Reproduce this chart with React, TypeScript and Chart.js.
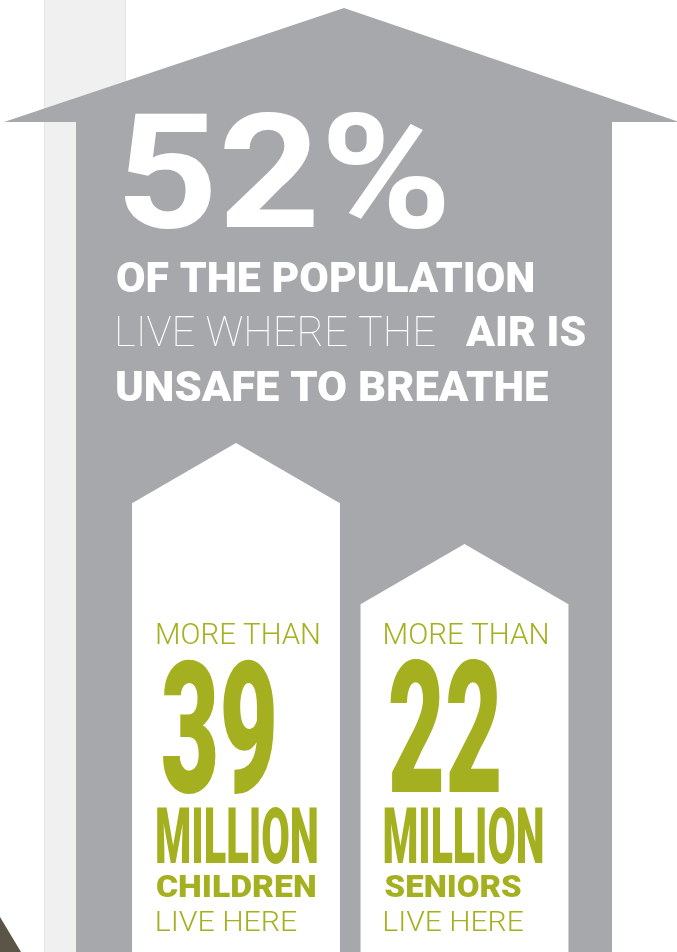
import React, { useEffect, useRef } from "react";
import { Chart, registerables } from "chart.js";

Chart.register(...registerables);

// ---- data ----
const GROUPS = ["CHILDREN", "SENIORS"];
const MILLIONS = [39, 22];
const SHARE_PCT = 52;
const LINE1 = "OF THE POPULATION";
const LINE2_LIGHT = "LIVE WHERE THE";
const LINE2_BOLD = "AIR IS";
const LINE3 = "UNSAFE TO BREATHE";
const PREFIX = "MORE THAN";
const UNIT = "MILLION";
const SUFFIX = "LIVE HERE";

// ---- style ----
const GRAY = "#a7a8ac";
const STRIP = "#f0f0f0";
const GREEN = "#a4b01f";
const W = 677;
const H = 952;

type FontFn = (s: number) => string;
const roboto = (wt: number): FontFn => (s: number) => `${wt} ${s}px Roboto`;

function fitText(
  ctx: CanvasRenderingContext2D,
  text: string,
  font: FontFn,
  x: number,
  baseline: number,
  width: number,
  capH: number,
  color: string
) {
  ctx.save();
  ctx.textAlign = "left";
  ctx.textBaseline = "alphabetic";
  ctx.font = font(100);
  const cap = ctx.measureText("H").actualBoundingBoxAscent || 71;
  const size = (100 * capH) / cap;
  ctx.font = font(size);
  const m = ctx.measureText(text);
  const tw = m.actualBoundingBoxLeft + m.actualBoundingBoxRight;
  const sx = width / tw;
  ctx.translate(x, baseline);
  ctx.scale(sx, 1);
  ctx.fillStyle = color;
  ctx.fillText(text, m.actualBoundingBoxLeft, 0);
  ctx.restore();
}

// layout of texts inside each small house (relative to house left edge)
const HOUSE_TEXT = [
  { dx: 25, prefixW: 162, numDx: 31, numW: 111, unitW: 160, groupW: 158, suffixW: 140 },
  { dx: 24, prefixW: 163, numDx: 30, numW: 108, unitW: 158, groupW: 137, suffixW: 139 },
];

const infographic = {
  id: "infographic",
  beforeDatasetsDraw(chart: any) {
    const ctx: CanvasRenderingContext2D = chart.ctx;
    ctx.save();
    ctx.fillStyle = "#ffffff";
    ctx.fillRect(0, 0, W, H);
    ctx.fillStyle = STRIP;
    ctx.fillRect(44, 0, 82, H);
    ctx.fillStyle = "#e4e4e4";
    ctx.fillRect(44, 0, 1, H);
    ctx.fillRect(125, 0, 1, H);
    ctx.fillStyle = GRAY;
    ctx.beginPath();
    ctx.moveTo(4, 122);
    ctx.lineTo(344, 8);
    ctx.lineTo(679, 122);
    ctx.lineTo(612, 122);
    ctx.lineTo(612, H);
    ctx.lineTo(76, H);
    ctx.lineTo(76, 122);
    ctx.closePath();
    ctx.fill();
    ctx.fillStyle = "#5a5547";
    ctx.beginPath();
    ctx.moveTo(0, 917);
    ctx.lineTo(21, H);
    ctx.lineTo(0, H);
    ctx.closePath();
    ctx.fill();
    const meta = chart.getDatasetMeta(0);
    ctx.fillStyle = "#ffffff";
    meta.data.forEach((el: any) => {
      const left = el.x - el.width / 2;
      const right = el.x + el.width / 2;
      const top = el.y;
      const drop = el.width * 0.29;
      ctx.beginPath();
      ctx.moveTo(left, H);
      ctx.lineTo(left, top + drop);
      ctx.lineTo(el.x, top);
      ctx.lineTo(right, top + drop);
      ctx.lineTo(right, H);
      ctx.closePath();
      ctx.fill();
    });
    ctx.restore();
  },
  afterDatasetsDraw(chart: any) {
    const ctx: CanvasRenderingContext2D = chart.ctx;
    fitText(ctx, `${SHARE_PCT}%`, roboto(700), 125, 227, 320, 115, "#ffffff");
    fitText(ctx, LINE1, roboto(900), 117, 292, 416, 30, "#ffffff");
    fitText(ctx, LINE2_LIGHT, roboto(100), 118, 346, 317, 30, "#ffffff");
    fitText(ctx, LINE2_BOLD, roboto(900), 465, 346, 120, 30, "#ffffff");
    fitText(ctx, LINE3, roboto(900), 117, 401, 431, 30, "#ffffff");
    const meta = chart.getDatasetMeta(0);
    meta.data.forEach((el: any, i: number) => {
      const L = HOUSE_TEXT[i];
      const hl = el.x - el.width / 2;
      const left = hl + L.dx;
      fitText(ctx, PREFIX, roboto(300), left, 644, L.prefixW, 21, GREEN);
      fitText(ctx, String(MILLIONS[i]), roboto(900), hl + L.numDx, 792, L.numW, 132, GREEN);
      fitText(ctx, UNIT, roboto(900), left, 863, L.unitW, 56, GREEN);
      fitText(ctx, GROUPS[i], roboto(900), left, 897, L.groupW, 22, GREEN);
      fitText(ctx, SUFFIX, roboto(300), left, 931, L.suffixW, 19, GREEN);
    });
  },
};

export default function App() {
  const ref = useRef<HTMLCanvasElement | null>(null);
  useEffect(() => {
    document.body.style.margin = "0";
    const canvas = ref.current;
    if (!canvas) return;
    const chart = new Chart(canvas, {
      type: "bar",
      data: {
        labels: GROUPS,
        datasets: [
          {
            data: MILLIONS,
            backgroundColor: "rgba(0,0,0,0)",
            borderWidth: 0,
            categoryPercentage: 1,
            barPercentage: 0.91,
          },
        ],
      },
      options: {
        responsive: false,
        animation: false,
        devicePixelRatio: 1,
        events: [],
        layout: { padding: { left: 121.75, right: 98.25, top: 0, bottom: 0 } },
        plugins: { legend: { display: false }, tooltip: { enabled: false } },
        scales: {
          x: { display: false },
          y: { display: false, min: -46.68, max: 113.56 },
        },
      },
      plugins: [infographic],
    } as any);
    return () => chart.destroy();
  }, []);
  return (
    <div style={{ width: W, height: H, overflow: "hidden" }}>
      <canvas ref={ref} width={W} height={H} style={{ display: "block", width: W, height: H }} />
    </div>
  );
}
